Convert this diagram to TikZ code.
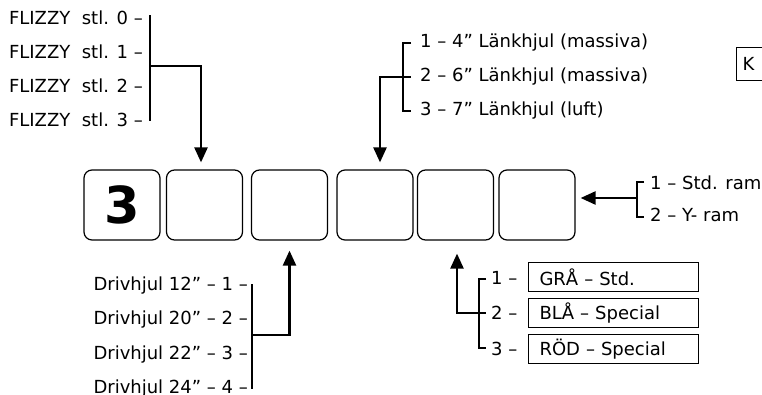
\documentclass[tikz,border=0pt]{standalone}
\usepackage{fontspec}
\setmainfont{DejaVu Sans}
\usetikzlibrary{arrows.meta}
\tikzset{
  slot/.style={draw, line width=1.2pt, rounded corners=8pt,
    minimum width=76pt, minimum height=70pt, inner sep=0pt},
  opt/.style={font=\fontsize{18}{21}\selectfont, inner sep=0pt},
  colbox/.style={draw, line width=1pt, font=\fontsize{18}{21}\selectfont,
    minimum height=29pt, inner xsep=11pt, inner ysep=0pt, align=left},
  bracket/.style={line width=2pt},
  pointer/.style={line width=2.4pt, -{Triangle[length=15pt,width=13pt]}}
}
\begin{document}
\begin{tikzpicture}[x=1pt,y=-1pt]
    \useasboundingbox (0,0) rectangle (762,394);
    % Kodrutorna
    \node[slot] (b1) at (122,205) {\fontsize{51}{51}\selectfont\bfseries 3};
    \node[slot] (b2) at (204.5,205) {};
    \node[slot] (b3) at (289.5,205) {};
    \node[slot] (b4) at (375,205) {};
    \node[slot] (b5) at (455.5,205) {};
    \node[slot] (b6) at (537,205) {};
    % FLIZZY
    \node[opt, anchor=east] (f0) at (143,18)  {FLIZZY\ \ stl. 0 –};
    \node[opt, anchor=east] (f1) at (143,52)  {FLIZZY\ \ stl. 1 –};
    \node[opt, anchor=east] (f2) at (143,86)  {FLIZZY\ \ stl. 2 –};
    \node[opt, anchor=east] (f3) at (143,120) {FLIZZY\ \ stl. 3 –};
    \coordinate (ftop) at (150,15);
    \coordinate (fbot) at (150,121);
    \coordinate (fmid) at (150,66);
    \draw[bracket] (ftop) -- (fbot);
    \draw[pointer, shorten >=7pt] (fmid) -| ([xshift=-3.5pt]b2.north);
    % Länkhjul
    \node[opt, anchor=west] (l1) at (420,43)  {1 – 4” Länkhjul (massiva)};
    \node[opt, anchor=west] (l2) at (420,77)  {2 – 6” Länkhjul (massiva)};
    \node[opt, anchor=west] (l3) at (420,111) {3 – 7” Länkhjul (luft)};
    \coordinate (ltop) at (403,43);
    \coordinate (lbot) at (403,111);
    \coordinate (lmid) at (403,77);
    \draw[bracket] ([xshift=8pt]ltop) -- (ltop) -- (lbot) -- ([xshift=8pt]lbot);
    \draw[bracket] (lmid) -- ([xshift=8pt]lmid);
    \draw[pointer, shorten >=7pt] (lmid) -| ([xshift=5pt]b4.north);
    % Ram
    \node[opt, anchor=west] (r1) at (650,183) {1 – Std. ram};
    \node[opt, anchor=west] (r2) at (650,215) {2 – Y- ram};
    \coordinate (rtop) at (637,182);
    \coordinate (rbot) at (637,217);
    \coordinate (rmid) at (637,198);
    \draw[bracket] ([xshift=7pt]rtop) -- (rtop) -- (rbot) -- ([xshift=7pt]rbot);
    \draw[pointer, shorten >=5pt] (rmid) -- (rmid -| b6.east);
    % Drivhjul
    \node[opt, anchor=east] (d1) at (248,285.5) {Drivhjul 12” – 1 –};
    \node[opt, anchor=east] (d2) at (248,320)   {Drivhjul 20” – 2 –};
    \node[opt, anchor=east] (d3) at (248,354.5) {Drivhjul 22” – 3 –};
    \node[opt, anchor=east] (d4) at (248,389)   {Drivhjul 24” – 4 –};
    \coordinate (dtop) at (252,284);
    \coordinate (dbot) at (252,389);
    \coordinate (dmid) at (252,335);
    \draw[bracket] (dtop) -- (dbot);
    \draw[pointer, shorten >=10pt] (dmid) -| (b3.south);
    % Färg
    \node[opt, anchor=west] (c1) at (491,278) {1 –};
    \node[opt, anchor=west] (c2) at (491,313) {2 –};
    \node[opt, anchor=west] (c3) at (491,349) {3 –};
    \node[colbox, anchor=west, text width=148pt] (g1) at (528,277) {GRÅ – Std.};
    \node[colbox, anchor=west, text width=148pt] (g2) at (528,313) {BLÅ – Special};
    \node[colbox, anchor=west, text width=148pt] (g3) at (528,349) {RÖD – Special};
    \coordinate (ctop) at (479,279);
    \coordinate (cbot) at (479,348);
    \coordinate (cmid) at (479,313);
    \draw[bracket] ([xshift=7pt]ctop) -- (ctop) -- (cbot) -- ([xshift=7pt]cbot);
    \draw[bracket] (cmid) -- ([xshift=7pt]cmid);
    \draw[pointer, shorten >=13pt] (cmid) -| ([xshift=1.5pt]b5.south);
    % Kod
    \node[colbox, anchor=west, minimum height=33pt, inner xsep=6pt, text width=60pt] (k) at (736,63.5) {K};
\end{tikzpicture}
\end{document}
